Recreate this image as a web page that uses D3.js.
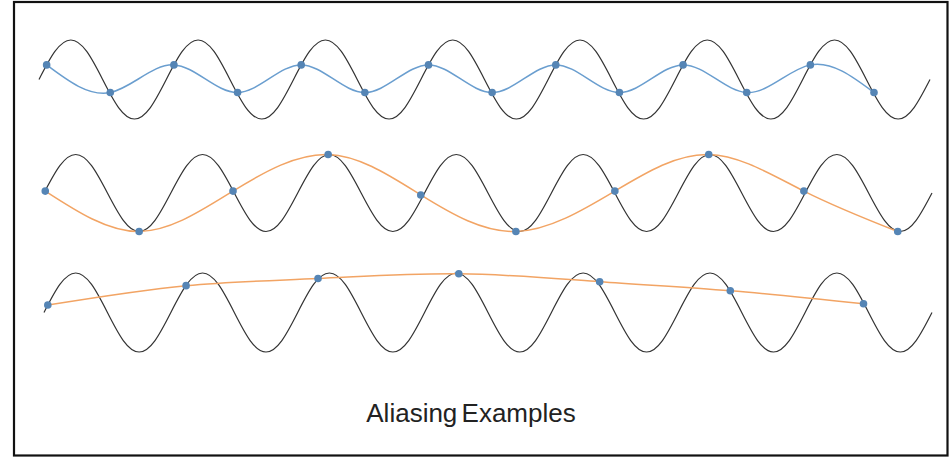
<!DOCTYPE html>
<html>
<head>
<meta charset="utf-8">
<script src="https://cdn.jsdelivr.net/npm/d3@7"></script>
<style>
  html, body { margin: 0; padding: 0; background: #fff; }
  svg { display: block; }
</style>
</head>
<body>
<svg id="chart" width="949" height="458"></svg>
<script>
// ---- data ----
const title = "Aliasing Examples";

// underlying signal (one unit of time = one period), sampled every 1/8 period
const carrierStep = 0.125;
const carrier = [
  0, 0.71, 1, 0.71, 0, -0.71, -1, -0.71,
  0, 0.71, 1, 0.71, 0, -0.71, -1, -0.71,
  0, 0.71, 1, 0.71, 0, -0.71, -1, -0.71,
  0, 0.71, 1, 0.71, 0, -0.71, -1, -0.71,
  0, 0.71, 1, 0.71, 0, -0.71, -1, -0.71,
  0, 0.71, 1, 0.71, 0, -0.71, -1, -0.71,
  0, 0.71, 1, 0.71, 0, -0.71, -1, -0.71,
  0
];

// row 1: sampled at 2 samples / period
const samplesT1 = [0.06, 0.56, 1.06, 1.56, 2.06, 2.56, 3.06, 3.56, 4.06, 4.56, 5.06, 5.56, 6.06, 6.56];
const samplesV1 = [0.37, -0.33, 0.37, -0.33, 0.37, -0.33, 0.37, -0.33, 0.37, -0.33, 0.37, -0.33, 0.37, -0.33];

// row 2: sampled every 3/4 period
const samplesT2 = [0.01, 0.75, 1.49, 2.24, 2.97, 3.72, 4.5, 5.24, 5.99, 6.73];
const samplesV2 = [0.05, -1, 0.05, 1, -0.05, -1, 0.05, 1, 0.05, -1];

// row 3: sampled slightly slower than once per period
const samplesT3 = [0.03, 1.12, 2.16, 3.27, 4.38, 5.41, 6.46];
const samplesV3 = [0.19, 0.68, 0.86, 0.98, 0.78, 0.55, 0.22];

const rows = [
  { t: samplesT1, v: samplesV1, color: "#6a9ecf" },
  { t: samplesT2, v: samplesV2, color: "#f2a464" },
  { t: samplesT3, v: samplesV3, color: "#f2a464" }
];

// ---- layout ----
const rowLayout = [
  { x0: 39, x1: 930, yTop: 40, yBot: 119 },
  { x0: 44, x1: 932, yTop: 154.5, yBot: 231.5 },
  { x0: 44, x1: 932, yTop: 273, yBot: 352 }
];

const svg = d3.select("#chart");

svg.append("rect")
  .attr("x", 14).attr("y", 2)
  .attr("width", 933.5).attr("height", 453.5)
  .attr("fill", "none")
  .attr("stroke", "#111")
  .attr("stroke-width", 2.2);

const carrierData = carrier.map((v, i) => ({ t: i * carrierStep, v }));

rows.forEach((row, i) => {
  const L = rowLayout[i];
  const x = d3.scaleLinear().domain([0, 7]).range([L.x0, L.x1]);
  const y = d3.scaleLinear().domain([-1, 1]).range([L.yBot, L.yTop]);
  const g = svg.append("g");

  g.append("path")
    .datum(carrierData)
    .attr("fill", "none")
    .attr("stroke", "#333")
    .attr("stroke-width", 1.2)
    .attr("d", d3.line().x(d => x(d.t)).y(d => y(d.v)).curve(d3.curveNatural));

  const pts = row.t.map((t, k) => ({ t, v: row.v[k] }));

  g.append("path")
    .datum(pts)
    .attr("fill", "none")
    .attr("stroke", row.color)
    .attr("stroke-width", 1.5)
    .attr("d", d3.line().x(d => x(d.t)).y(d => y(d.v)).curve(d3.curveNatural));

  g.selectAll("circle")
    .data(pts)
    .join("circle")
    .attr("cx", d => x(d.t))
    .attr("cy", d => y(d.v))
    .attr("r", 3.8)
    .attr("fill", "#5585b5");
});

svg.append("text")
  .attr("x", 471)
  .attr("y", 422)
  .attr("text-anchor", "middle")
  .attr("font-family", "Liberation Sans, Arial, sans-serif")
  .attr("font-size", 26)
  .attr("word-spacing", -3)
  .attr("fill", "#222")
  .text(title);
</script>
</body>
</html>
